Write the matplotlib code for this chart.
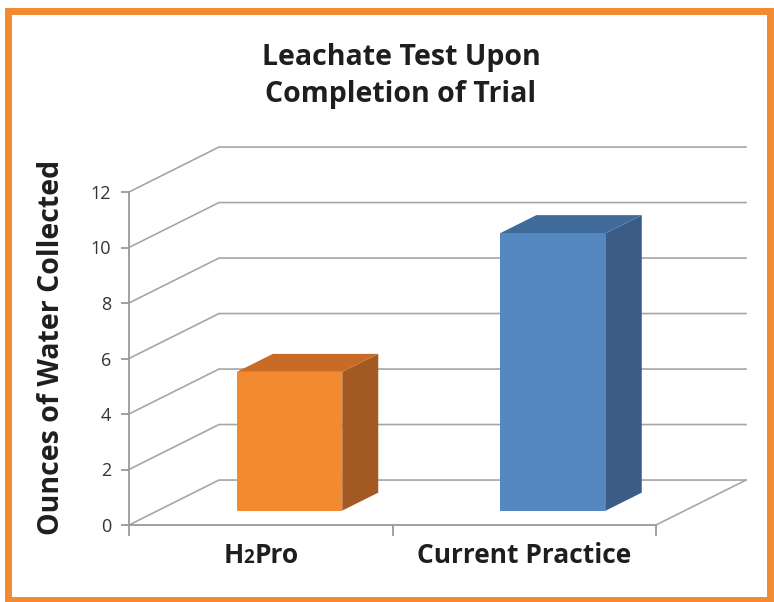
import matplotlib.pyplot as plt
from matplotlib.patches import Polygon, Rectangle
from matplotlib.offsetbox import TextArea, HPacker, AnnotationBbox

categories = ['H2Pro', 'Current Practice']
ounces = [5, 10]
y_ticks = [0, 2, 4, 6, 8, 10, 12]
title = 'Leachate Test Upon\nCompletion of Trial'
y_label = 'Ounces of Water Collected'

front_colors = ['#F28A30', '#5587C1']
top_colors = ['#C76B26', '#3F6B9A']
side_colors = ['#A35A22', '#3A5C86']

# fake 3d: depth of the floor expressed in data units
DX, DY = 0.3416, 1.62
D0, D1 = 0.32, 0.72   # front / back of the bars along the depth
WIDTH = 0.40
GRID = '#A6A6A6'
BOLD = ['Open Sans', 'DejaVu Sans']


def proj(x, v, d):
    return (x + d * DX, v + d * DY)


W, H = 774, 602
fig = plt.figure(figsize=(W / 100, H / 100), dpi=100)

# pixels per data unit, and where data (0, 0) sits
px_x, px_y = 263.5, 27.75
x0, y0 = 129, 77
xlim = (-0.05, 2.4)
ylim = (-0.5, 14)
ax = fig.add_axes([(x0 + xlim[0] * px_x) / W, (y0 + ylim[0] * px_y) / H,
                   (xlim[1] - xlim[0]) * px_x / W, (ylim[1] - ylim[0]) * px_y / H])
ax.set_xlim(xlim)
ax.set_ylim(ylim)
ax.patch.set_visible(False)

n = len(categories)

# walls: side-wall diagonals and back gridlines
for v in y_ticks:
    a, b = proj(0, v, 0), proj(0, v, 1)
    c = proj(n, v, 1)
    ax.plot([a[0], b[0], c[0]], [a[1], b[1], c[1]], color=GRID, lw=1.2, zorder=1)
a, b = proj(n, 0, 0), proj(n, 0, 1)
ax.plot([a[0], b[0]], [a[1], b[1]], color=GRID, lw=1.2, zorder=1)

# bars
for i, v in enumerate(ounces):
    xl, xr = i + 0.5 - WIDTH / 2, i + 0.5 + WIDTH / 2
    front = [proj(xl, 0, D0), proj(xr, 0, D0), proj(xr, v, D0), proj(xl, v, D0)]
    top = [proj(xl, v, D0), proj(xr, v, D0), proj(xr, v, D1), proj(xl, v, D1)]
    side = [proj(xr, 0, D0), proj(xr, 0, D1), proj(xr, v, D1), proj(xr, v, D0)]
    ax.add_patch(Polygon(side, closed=True, fc=side_colors[i], ec='none', zorder=3))
    ax.add_patch(Polygon(top, closed=True, fc=top_colors[i], ec='none', zorder=3))
    ax.add_patch(Polygon(front, closed=True, fc=front_colors[i], ec='none', zorder=4))

# axes lines
for s in ['top', 'right']:
    ax.spines[s].set_visible(False)
ax.spines['left'].set_position(('data', 0))
ax.spines['left'].set_bounds(0, 12)
ax.spines['bottom'].set_position(('data', 0))
ax.spines['bottom'].set_bounds(0, n)
for s in ['left', 'bottom']:
    ax.spines[s].set_color('#999999')
    ax.spines[s].set_linewidth(1.3)
ax.set_yticks(y_ticks)
ax.set_yticklabels([str(t) for t in y_ticks], fontsize=13, color='#333333',
                   family='Open Sans')
ax.tick_params(axis='y', length=6, width=1.3, color='#999999', pad=7)
ax.set_xticks(range(n + 1))
ax.set_xticklabels([])
ax.tick_params(axis='x', length=8, width=1.3, color='#999999')

# category labels (the 2 in H2Pro is set smaller)
lab_kw = dict(fontsize=19, fontweight='bold', color='#1E1E1E', family=BOLD)
h2 = HPacker(children=[TextArea('H', textprops=lab_kw),
                       TextArea('2', textprops=dict(lab_kw, fontsize=13.5)),
                       TextArea('Pro', textprops=lab_kw)],
             align='baseline', pad=0, sep=0)
ax.add_artist(AnnotationBbox(h2, (0.5, -1.1), frameon=False, box_alignment=(0.5, 0.5),
                             annotation_clip=False))
ax.text(1.5, -1.1, categories[1], ha='center', va='center', clip_on=False, **lab_kw)

fig.text(52 / W, 1 - 347 / H, y_label, rotation=90, ha='center', va='center',
         fontsize=20.5, fontweight='bold', color='#1E1E1E', family=BOLD)
fig.text(401 / W, 1 - 76 / H, title, ha='center', va='center', linespacing=1.38,
         fontsize=20.5, fontweight='bold', color='#1E1E1E', family=BOLD)

# orange frame
fig.add_artist(Rectangle((8 / W, 2 / H), 762 / W, 589 / H, transform=fig.transFigure,
                         fill=False, ec='#F28A30', lw=5))

fig.savefig('out.png', dpi=100)
